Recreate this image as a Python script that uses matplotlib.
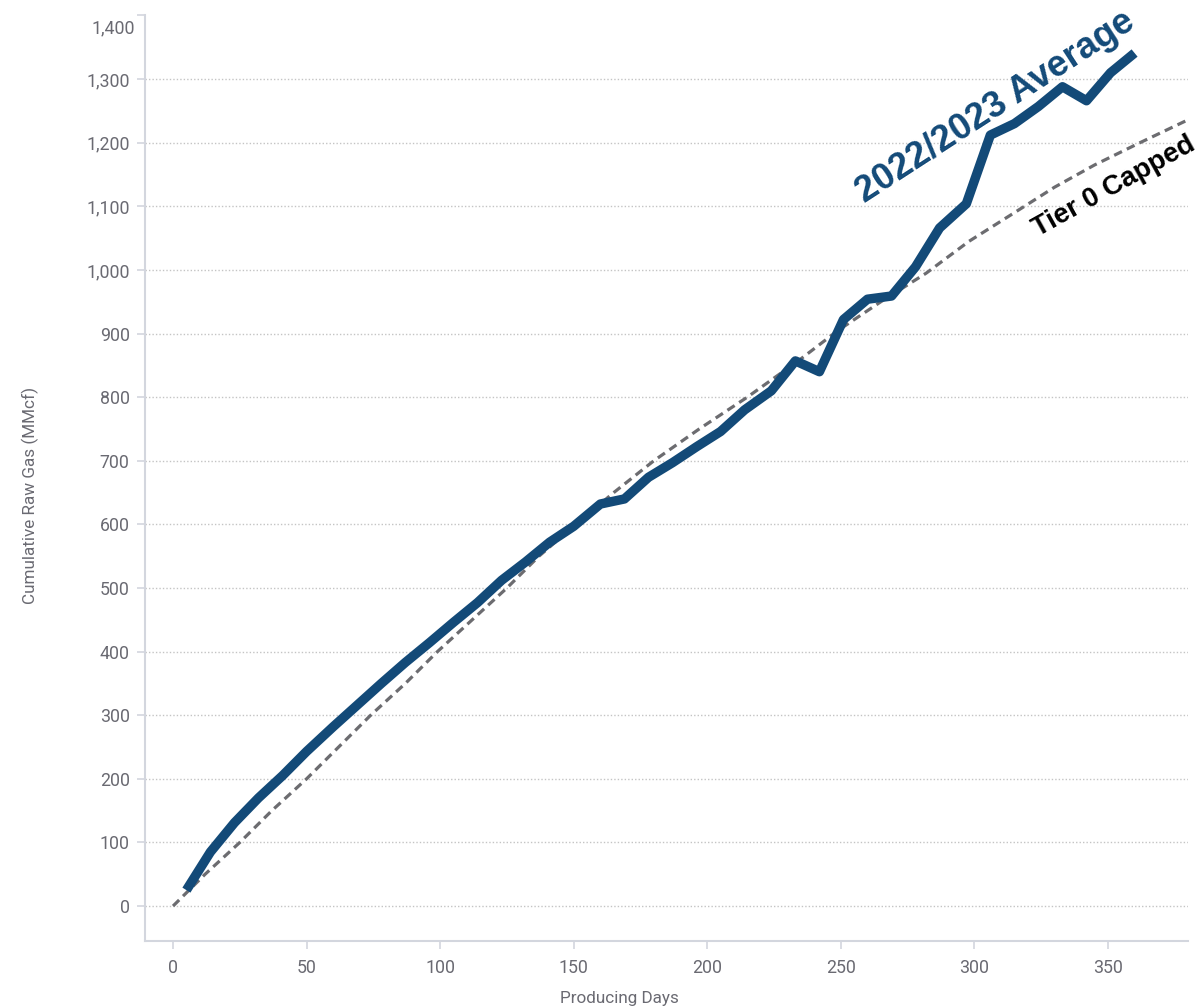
import matplotlib
matplotlib.use("Agg")
import matplotlib.pyplot as plt

# ---- data ----
avg_days = [5, 14, 23, 32, 41, 50, 60, 69, 78, 87, 96, 105, 114, 123, 132, 141,
            150, 160, 169, 178, 187, 196, 205, 214, 224, 233, 242, 251, 260, 269,
            278, 287, 297, 306, 315, 324, 333, 342, 351, 360]
avg_vals = [25, 85, 131, 170, 205, 243, 282, 316, 350, 383, 414, 446, 477, 512,
            541, 572, 597, 632, 640, 674, 697, 722, 746, 780, 810, 857, 840, 922,
            954, 959, 1005, 1066, 1104, 1212, 1230, 1257, 1288, 1266, 1310, 1341]

tier_days = [0, 12, 25, 37, 50, 62, 74, 87, 99, 112, 125, 137, 150, 165, 180,
             197, 215, 235, 249, 265, 282, 298, 315, 330, 345, 362, 380]
tier_vals = [0, 50, 100, 150, 200, 250, 300, 350, 400, 450, 500, 550, 597, 650,
             700, 750, 800, 860, 905, 950, 995, 1045, 1090, 1130, 1165, 1200, 1236]

x_ticks = [0, 50, 100, 150, 200, 250, 300, 350]
y_ticks = [0, 100, 200, 300, 400, 500, 600, 700, 800, 900, 1000, 1100, 1200, 1300, 1400]
y_labels = ["0", "100", "200", "300", "400", "500", "600", "700", "800", "900",
            "1,000", "1,100", "1,200", "1,300", "1,400"]

avg_label = "2022/2023 Average"
tier_label = "Tier 0 Capped"
x_title = "Producing Days"
y_title = "Cumulative Raw Gas (MMcf)"

# ---- style ----
BLUE = "#134a78"
DASH = "#6c6c70"
SPINE = "#d3d6de"
GRID = "#c4c4c4"
TXT = "#6a6a72"

plt.rcParams["font.family"] = ["Roboto", "DejaVu Sans"]

fig = plt.figure(figsize=(12.04, 10.08), dpi=100)
ax = fig.add_axes([145 / 1204, 67.3 / 1008, (1188 - 145) / 1204, (940.7 - 15.5) / 1008])

ax.set_xlim(-10.5, 380)
ax.set_ylim(-54.5, 1400)

# gridlines (dotted), not at the top edge
for yv in y_ticks[:-1]:
    ax.axhline(yv, color=GRID, linewidth=1.0, linestyle=(0, (1, 1.5)), zorder=0)

ax.plot(tier_days, tier_vals, color=DASH, linewidth=2.3,
        linestyle=(0, (2.7, 1.7)), zorder=2, solid_capstyle="butt")
ax.plot(avg_days, avg_vals, color=BLUE, linewidth=6.8, zorder=3,
        solid_capstyle="butt", solid_joinstyle="round")

for s in ["top", "right"]:
    ax.spines[s].set_visible(False)
for s in ["left", "bottom"]:
    ax.spines[s].set_color(SPINE)
    ax.spines[s].set_linewidth(1.5)

ax.set_xticks(x_ticks)
ax.set_xticklabels([str(v) for v in x_ticks])
ax.set_yticks(y_ticks)
ax.set_yticklabels(y_labels[:-1] + [""])
ax.tick_params(axis="both", colors=SPINE, length=6, width=1.2,
               labelcolor=TXT, labelsize=12.8)
ax.tick_params(axis="x", pad=7)
ax.tick_params(axis="y", pad=5)

# top label shifted down (inside the plot height)
fig.text(135 / 1204, 1 - 28 / 1008, y_labels[-1], ha="right", va="center",
         color=TXT, fontsize=12.8)

fig.text(619 / 1204, 1 - 998 / 1008, x_title, ha="center", va="center",
         color=TXT, fontsize=12.3)
fig.text(30 / 1204, 1 - 495 / 1008, y_title, ha="center", va="center",
         rotation=90, color=TXT, fontsize=12.3)

ax.text(259, 1104, avg_label, rotation=33, rotation_mode="anchor",
        ha="left", va="baseline", color=BLUE, fontsize=26.3, fontweight="bold",
        family=["Liberation Sans", "DejaVu Sans"])
ax.text(324, 1052, tier_label, rotation=29, rotation_mode="anchor",
        ha="left", va="baseline", color="black", fontsize=19.8, fontweight="bold",
        family=["Liberation Sans", "DejaVu Sans"], clip_on=False)

fig.savefig("out.png", dpi=100)
